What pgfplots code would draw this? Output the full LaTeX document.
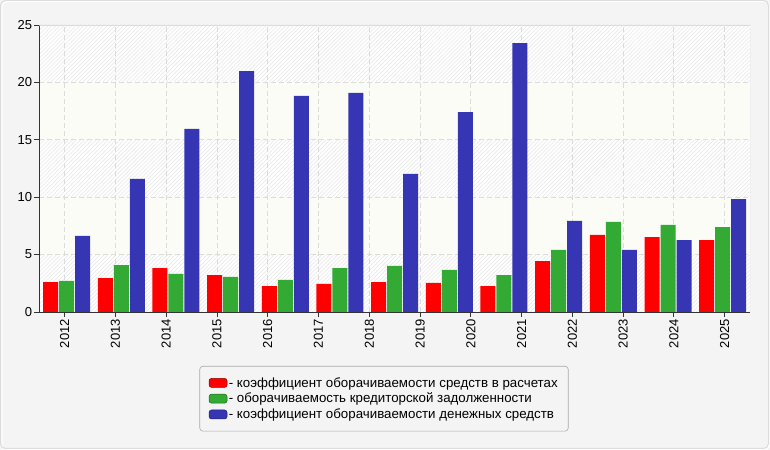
\documentclass[border=0pt]{standalone}
\usepackage{pgfplots}
\pgfplotsset{compat=1.18}
\usepackage{fontspec}
\setmainfont{Liberation Sans}
\usetikzlibrary{patterns.meta}
\definecolor{cred}{HTML}{FF0000}
\definecolor{cgreen}{HTML}{33AA33}
\definecolor{cblue}{HTML}{3636B4}
\definecolor{bg}{HTML}{F4F4F4}
\definecolor{gridc}{HTML}{DCDCDC}
\definecolor{axc}{HTML}{333333}
\definecolor{band}{HTML}{FCFCF6}
\definecolor{hatch}{HTML}{EBEBEB}
\definecolor{legb}{HTML}{AAAAAA}
\pagecolor{bg}

\pgfplotstableread{
x r g b
0.0385  2.61 2.70 6.62
1.1154  2.96 4.09 11.59
2.1923  3.83 3.31 15.94
3.2692  3.22 3.05 20.99
4.3462  2.26 2.79 18.82
5.4231  2.44 3.83 19.08
6.5000  2.61 4.01 12.02
7.5769  2.53 3.66 17.42
8.6538  2.26 3.22 23.43
9.7308  4.44 5.40 7.93
10.8077 6.71 7.84 5.40
11.8846 6.53 7.58 6.27
12.9615 6.27 7.40 9.84
}\datatab

\begin{document}
\begin{tikzpicture}[x=1bp,y=1bp]
\begin{axis}[
  set layers,
  at={(39.3bp,138bp)}, anchor=south west,
  scale only axis, width=710.7bp, height=287bp,
  xmin=-0.5, xmax=13.5, ymin=0, ymax=25,
  xtick={0,1,2,3,4,5,6,7,8,9,10,11,12,13},
  xticklabels={2012,2013,2014,2015,2016,2017,2018,2019,2020,2021,2022,2023,2024,2025},
  ytick={0,5,10,15,20,25},
  axis lines*=left,
  axis line style={draw=axc, line width=0.9bp, -},
  tick style={draw=axc, line width=0.9bp},
  tick align=outside,
  major tick length=5bp,
  ticklabel style={font=\fontsize{13bp}{15bp}\selectfont, text=black},
  x tick label style={rotate=90, anchor=east, inner sep=2bp},
  y tick label style={inner sep=2bp},
  /pgf/number format/assume math mode=true,
  grid=major,
  major grid style={draw=gridc, line width=0.8bp, dash pattern=on 5bp off 3bp},
  ybar=1bp, bar width=15bp,
  legend style={at={(0.485,-0.188)}, anchor=north, draw=legb, fill=bg,
    rounded corners=3bp, line width=0.6bp,
    font=\fontsize{13.3bp}{16bp}\selectfont,
    nodes={inner sep=1.5bp},
    inner xsep=9bp, inner ysep=9.5bp, row sep=1.5bp},
  legend cell align=left,
]
\begin{pgfonlayer}{axis background}
\fill[white] (axis cs:-0.5,0) rectangle (axis cs:13.5,25);
\fill[pattern={Lines[angle=45, distance=2.8bp, line width=0.7bp]}, pattern color=hatch] (axis cs:-0.5,0) rectangle (axis cs:13.5,25);
\fill[band] (axis cs:-0.5,5) rectangle (axis cs:13.5,10);
\fill[band] (axis cs:-0.5,15) rectangle (axis cs:13.5,20);
\end{pgfonlayer}
\addplot[fill=cred, draw=none, legend image code/.code={\path[fill=cred, draw=red!60!black, line width=0.5bp, rounded corners=2.5bp] (0bp,-4.5bp) rectangle (18bp,4.5bp);}] table[x=x, y=r] {\datatab};
\addplot[fill=cgreen, draw=none, legend image code/.code={\path[fill=cgreen, draw=cgreen!60!black, line width=0.5bp, rounded corners=2.5bp] (0bp,-4.5bp) rectangle (18bp,4.5bp);}] table[x=x, y=g] {\datatab};
\addplot[fill=cblue, draw=none, legend image code/.code={\path[fill=cblue, draw=cblue!60!black, line width=0.5bp, rounded corners=2.5bp] (0bp,-4.5bp) rectangle (18bp,4.5bp);}] table[x=x, y=b] {\datatab};
\legend{- коэффициент оборачиваемости средств в расчетах, - оборачиваемость кредиторской задолженности, - коэффициент оборачиваемости денежных средств}
\draw[gridc, line width=0.9bp] (rel axis cs:0,1) -- (rel axis cs:1,1) -- (rel axis cs:1,0);
\end{axis}
\draw[white, line width=1bp, rounded corners=5bp] (2,0.5) rectangle (769.5,448.5);
\draw[gridc, line width=1bp, rounded corners=5bp] (0.5,1.5) rectangle (768.5,449.5);
\path (0,0) rectangle (770,450);
\end{tikzpicture}
\end{document}
